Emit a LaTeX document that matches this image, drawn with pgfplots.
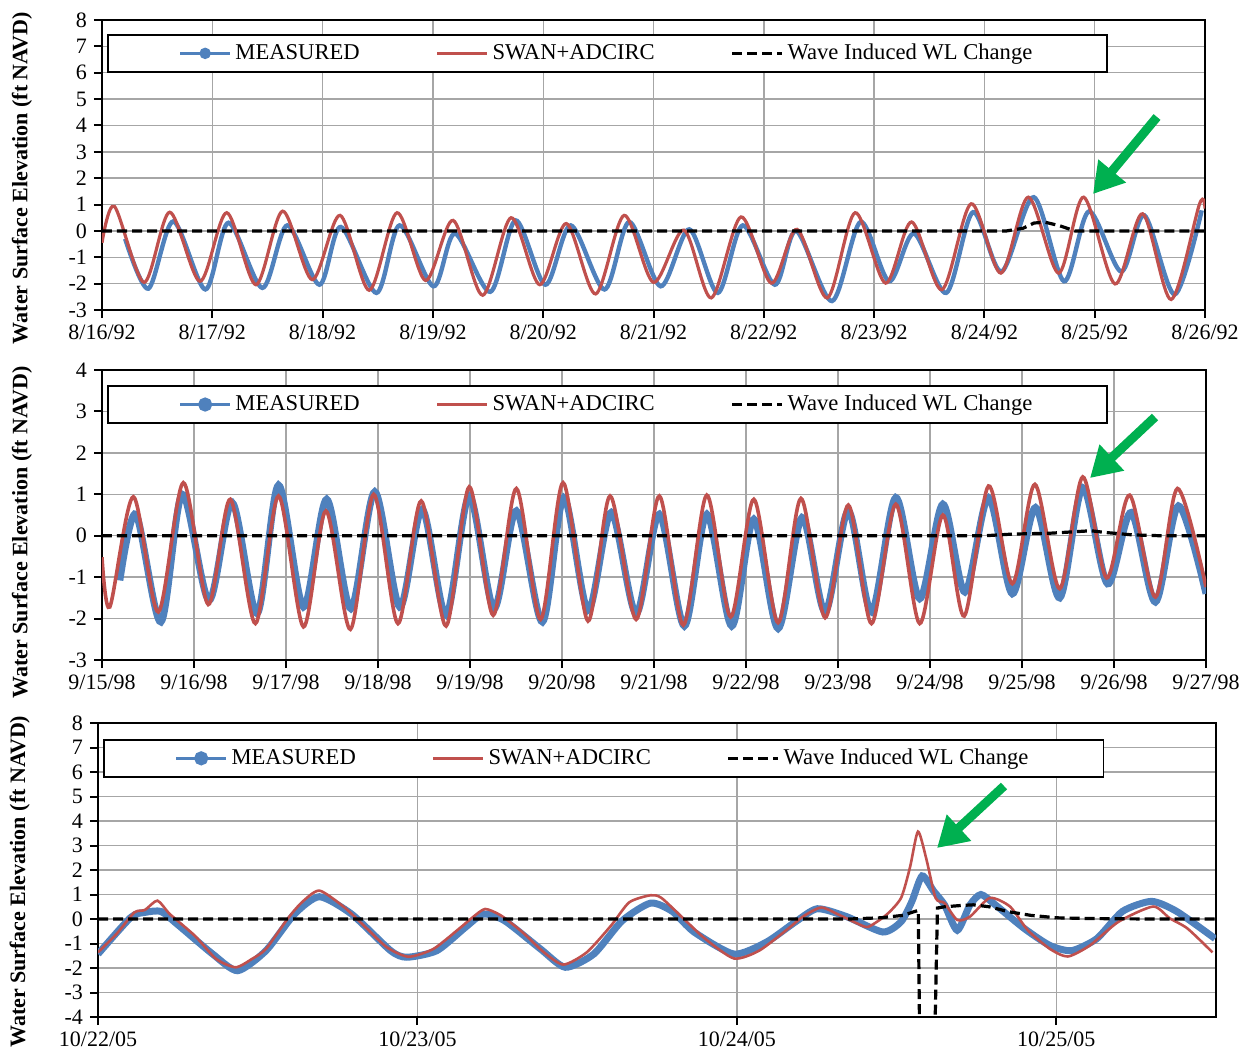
\documentclass[border=0pt]{standalone}
\usepackage{pgfplots}
\pgfplotsset{compat=1.18}
\usepackage{fontspec}
\setmainfont{Liberation Serif}
\usetikzlibrary{arrows.meta}
\definecolor{meas}{HTML}{4F81BD}
\definecolor{swan}{HTML}{C0504D}
\definecolor{arrowgreen}{HTML}{00B050}

\pgfplotsset{
  wlpanel/.style={
    scale only axis,
    anchor=north west,
    axis line style={line width=1.2pt},
    grid=major,
    grid style={gray!70, line width=0.7pt},
    tick align=outside,
    xtick pos=left, ytick pos=left,
    major tick length=4pt,
    tick style={black, line width=1pt},
    tick label style={font=\fontsize{11}{13}\selectfont},
    ylabel={Water Surface Elevation (ft NAVD)},
    ylabel style={font=\bfseries\fontsize{11}{13}\selectfont, anchor=center},
    legend columns=3,
    legend style={anchor=north west, draw=black, line width=0.9pt, fill=white,
      font=\fontsize{11.3}{13}\selectfont, inner xsep=35.5pt, inner ysep=2.6pt,
      /tikz/every even column/.append style={column sep=36pt}},
  },
  measleg/.style={legend image code/.code={\draw[##1, line width=1.3pt] (0pt,0pt) -- (25pt,0pt); \fill[meas] (12.5pt,0pt) circle (1.7pt);}},
  lineleg/.style={legend image code/.code={\draw[##1, line width=1.4pt] (0pt,0pt) -- (25pt,0pt);}},
  wl/.style={black, line width=1.6pt, dash pattern=on 5pt off 2.5pt},
}

\begin{document}
\begin{tikzpicture}
\path[use as bounding box] (0,0) rectangle (625.5pt,-528.5pt);

% ---------------- Panel 1 ----------------
\begin{axis}[wlpanel,
  at={(51pt,-10pt)}, width=551.5pt, height=145pt,
  xmin=0, xmax=10, ymin=-3, ymax=8,
  xtick={0,1,...,10},
  xticklabels={8/16/92,8/17/92,8/18/92,8/19/92,8/20/92,8/21/92,8/22/92,8/23/92,8/24/92,8/25/92,8/26/92},
  ytick={-3,-2,...,8},
  yticklabels={-3,-2,-1,0,1,2,3,4,5,6,7,8},
  ylabel style={at={(axis description cs:-0.0725,0.455)}},
  legend style={at={(0.0045,0.952)}},
]
\addplot[meas, line width=2.2pt, smooth, no marks, measleg] table {
0.21 -0.3
0.42 -2.19
0.646 0.36
0.937 -2.22
1.147 0.31
1.454 -2.16
1.68 0.21
1.971 -2.04
2.165 0.15
2.488 -2.35
2.698 0.21
3.005 -2.10
3.20 -0.10
3.52 -2.31
3.75 0.40
4.02 -2.04
4.25 0.21
4.556 -2.22
4.78 0.34
5.065 -2.10
5.324 0.06
5.583 -2.35
5.809 0.21
6.10 -2.04
6.294 0.0
6.618 -2.66
6.877 0.34
7.136 -1.91
7.362 -0.10
7.654 -2.35
7.896 0.71
8.155 -1.54
8.447 1.28
8.722 -1.91
8.948 0.74
9.24 -1.54
9.45 0.59
9.725 -2.41
9.97 0.78
};
\addlegendentry{MEASURED}
\addplot[swan, line width=1.6pt, smooth, no marks, lineleg] table {
0 -0.45
0.113 0.93
0.381 -1.95
0.614 0.71
0.889 -1.91
1.131 0.69
1.396 -2.04
1.638 0.75
1.906 -1.85
2.158 0.59
2.423 -2.25
2.675 0.69
2.934 -1.88
3.183 0.40
3.451 -2.44
3.709 0.50
3.968 -2.04
4.210 0.28
4.475 -2.39
4.734 0.59
5.000 -1.95
5.275 0.03
5.524 -2.54
5.793 0.53
6.068 -1.98
6.301 0.06
6.576 -2.54
6.828 0.69
7.104 -1.98
7.340 0.34
7.615 -2.23
7.880 1.03
8.149 -1.60
8.398 1.28
8.673 -1.60
8.900 1.28
9.184 -2.01
9.434 0.65
9.693 -2.60
9.951 1.03
10.0 0.85
};
\addlegendentry{SWAN+ADCIRC}
\addplot[wl, no marks, lineleg] table {
0 0
8.20 0
8.35 0.1
8.45 0.3
8.55 0.33
8.68 0.2
8.82 0.0
10 0
};
\addlegendentry{Wave Induced WL Change}
\end{axis}

% ---------------- Panel 2 ----------------
\begin{axis}[wlpanel,
  at={(51pt,-185pt)}, width=552pt, height=145pt,
  xmin=0, xmax=12, ymin=-3, ymax=4,
  xtick={0,1,...,12},
  xticklabels={9/15/98,9/16/98,9/17/98,9/18/98,9/19/98,9/20/98,9/21/98,9/22/98,9/23/98,9/24/98,9/25/98,9/26/98,9/27/98},
  ytick={-3,-2,...,4},
  yticklabels={-3,-2,-1,0,1,2,3,4},
  ylabel style={at={(axis description cs:-0.0725,0.44)}},
  legend style={at={(0.0045,0.948)}},
]
\addplot[meas, line width=3.5pt, smooth, no marks, measleg] table {
0.194 -1.08
0.368 0.52
0.64 -2.08
0.872 1.0
1.163 -1.56
1.415 0.80
1.686 -1.88
1.919 1.22
2.19 -1.72
2.442 0.88
2.705 -1.76
2.965 1.06
3.236 -1.72
3.48 0.64
3.74 -1.92
3.992 0.96
4.26 -1.76
4.504 0.60
4.787 -2.08
5.019 0.92
5.283 -1.80
5.535 0.56
5.806 -1.88
6.058 0.52
6.33 -2.18
6.574 0.52
6.845 -2.18
7.085 0.40
7.349 -2.24
7.609 0.44
7.86 -1.84
8.112 0.60
8.364 -1.84
8.628 0.92
8.888 -1.52
9.14 0.76
9.38 -1.36
9.636 0.92
9.895 -1.40
10.147 0.68
10.41 -1.50
10.66 1.16
10.93 -1.16
11.186 0.56
11.45 -1.60
11.70 0.72
12.0 -1.40
};
\addlegendentry{MEASURED}
\addplot[swan, line width=1.8pt, smooth, no marks, lineleg] table {
0 -0.52
0.085 -1.72
0.341 0.94
0.612 -1.84
0.884 1.28
1.155 -1.66
1.395 0.88
1.667 -2.12
1.919 0.96
2.19 -2.2
2.434 0.6
2.70 -2.26
2.953 1.0
3.217 -2.12
3.469 0.84
3.74 -2.18
3.992 1.18
4.252 -1.92
4.504 1.14
4.767 -2.02
5.012 1.28
5.283 -2.06
5.523 0.96
5.806 -2.02
6.058 0.96
6.318 -2.16
6.574 0.98
6.833 -1.96
7.085 0.88
7.349 -2.10
7.597 0.90
7.86 -1.98
8.112 0.74
8.364 -2.12
8.628 0.76
8.888 -2.12
9.14 0.50
9.372 -1.94
9.636 1.20
9.895 -1.16
10.14 1.24
10.41 -1.28
10.66 1.42
10.92 -1.02
11.17 0.98
11.45 -1.48
11.69 1.14
12.0 -1.24
};
\addlegendentry{SWAN+ADCIRC}
\addplot[wl, no marks, lineleg] table {
0 0
9.6 0
9.9 0.04
10.3 0.06
10.6 0.10
10.75 0.12
10.9 0.08
11.2 0.02
11.5 0
12 0
};
\addlegendentry{Wave Induced WL Change}
\end{axis}

% ---------------- Panel 3 ----------------
\begin{axis}[wlpanel,
  at={(49pt,-361.5pt)}, width=559pt, height=147pt,
  xmin=0, xmax=3.5, ymin=-4, ymax=8,
  xtick={0,1,2,3},
  xticklabels={10/22/05,10/23/05,10/24/05,10/25/05},
  ytick={-4,-3,...,8},
  yticklabels={-4,-3,-2,-1,0,1,2,3,4,5,6,7,8},
  ylabel style={at={(axis description cs:-0.07,0.46)}},
  legend style={at={(0.0045,0.946)}},
]
\addplot[meas, line width=3.5pt, smooth, tension=0.4, no marks, measleg] table {
0 -1.43
0.103 0.07
0.147 0.27
0.197 0.31
0.247 -0.2
0.359 -1.43
0.437 -2.11
0.526 -1.29
0.615 0.2
0.693 0.91
0.794 0.2
0.916 -1.29
0.967 -1.56
1.061 -1.29
1.15 -0.34
1.206 0.2
1.273 -0.07
1.385 -1.22
1.463 -1.97
1.552 -1.43
1.641 -0.07
1.73 0.65
1.798 0.31
1.866 -0.53
1.991 -1.43
2.093 -0.94
2.184 -0.11
2.252 0.42
2.343 0.10
2.457 -0.53
2.514 -0.11
2.548 0.72
2.58 1.76
2.616 1.14
2.65 0.58
2.69 -0.46
2.73 0.58
2.764 1.0
2.809 0.58
2.9 -0.39
2.98 -1.08
3.048 -1.29
3.127 -0.8
3.207 0.31
3.298 0.72
3.377 0.31
3.497 -0.8
};
\addlegendentry{MEASURED}
\addplot[swan, line width=1.3pt, smooth, tension=0.4, no marks, lineleg] table {
0 -1.36
0.058 -0.61
0.114 0.27
0.147 0.37
0.186 0.75
0.225 0.2
0.303 -0.68
0.37 -1.63
0.431 -1.97
0.482 -1.63
0.526 -1.22
0.593 0
0.638 0.68
0.693 1.16
0.771 0.48
0.838 -0.34
0.905 -1.16
0.972 -1.54
1.05 -1.22
1.129 -0.41
1.173 0.07
1.212 0.41
1.262 0.14
1.329 -0.54
1.396 -1.36
1.457 -1.86
1.53 -1.36
1.606 -0.27
1.663 0.68
1.73 0.97
1.764 0.86
1.832 0.03
1.9 -0.8
1.991 -1.61
2.07 -1.29
2.161 -0.39
2.207 0.1
2.264 0.47
2.32 0.17
2.377 -0.18
2.411 -0.32
2.468 0.17
2.514 0.86
2.542 2.11
2.567 3.57
2.593 2.46
2.622 0.86
2.65 0.65
2.69 -0.04
2.73 0.1
2.792 0.86
2.855 0.51
2.911 -0.46
2.98 -1.22
3.036 -1.53
3.105 -1.08
3.195 -0.11
3.303 0.51
3.355 0.03
3.411 -0.39
3.489 -1.36
};
\addlegendentry{SWAN+ADCIRC}
\addplot[wl, no marks, lineleg] table {
0 0
2.35 0
2.45 0.05
2.52 0.15
2.555 0.3
2.568 0.35
2.572 -4.6
2.62 -4.6
2.628 0.45
2.65 0.5
2.70 0.55
2.74 0.58
2.79 0.5
2.85 0.3
2.92 0.15
3.0 0.05
3.1 0.02
3.3 0
3.5 0
};
\addlegendentry{Wave Induced WL Change}
\end{axis}

% annotation arrows
\draw[arrowgreen, line width=4.5pt, -{Triangle[length=15pt,width=17pt]}] (578.5pt,-58.5pt) -- (546.5pt,-97pt);
\draw[arrowgreen, line width=4.5pt, -{Triangle[length=15pt,width=17pt]}] (577.5pt,-208.5pt) -- (545pt,-239pt);
\draw[arrowgreen, line width=4.5pt, -{Triangle[length=15pt,width=17pt]}] (502pt,-393pt) -- (468.5pt,-424pt);
\end{tikzpicture}
\end{document}
